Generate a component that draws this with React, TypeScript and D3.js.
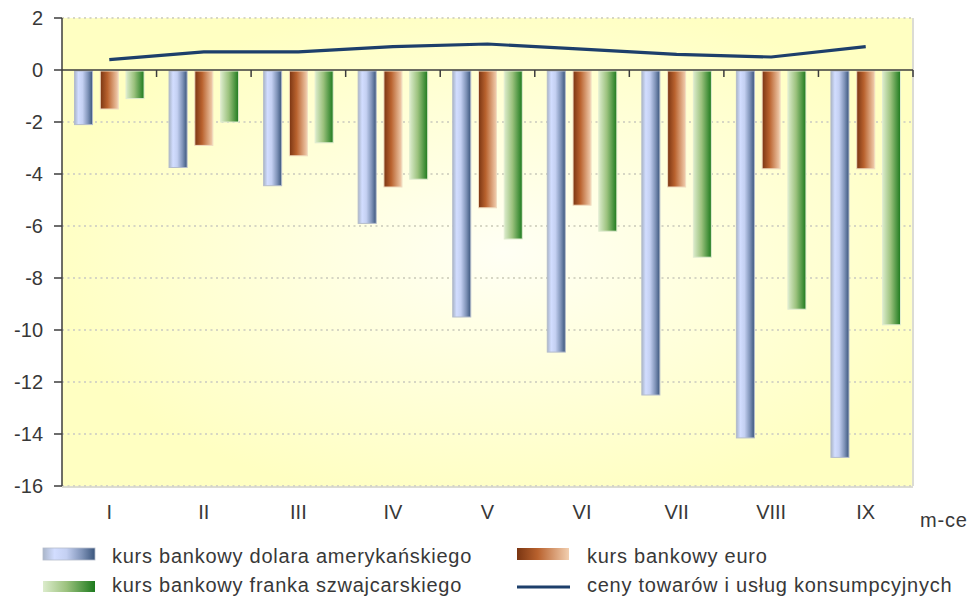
import React from "react";
import * as d3 from "d3";

const categories = ["I", "II", "III", "IV", "V", "VI", "VII", "VIII", "IX"];
const usdValues = [-2.1, -3.75, -4.45, -5.9, -9.5, -10.85, -12.5, -14.15, -14.9];
const eurValues = [-1.5, -2.9, -3.3, -4.5, -5.3, -5.2, -4.5, -3.8, -3.8];
const chfValues = [-1.1, -2.0, -2.8, -4.2, -6.5, -6.2, -7.2, -9.2, -9.8];
const cpiValues = [0.4, 0.7, 0.7, 0.9, 1.0, 0.8, 0.6, 0.5, 0.9];
const yTicks = [2, 0, -2, -4, -6, -8, -10, -12, -14, -16];
const seriesNames = [
  "kurs bankowy dolara amerykańskiego",
  "kurs bankowy euro",
  "kurs bankowy franka szwajcarskiego",
  "ceny towarów i usług konsumpcyjnych",
];
const xAxisTitle = "m-ce";

const W = 971;
const H = 597;
const left = 62;
const right = 913;
const top = 18;
const bottom = 486;
const font = "'Liberation Sans', Arial, sans-serif";

export default function App() {
  const y = d3.scaleLinear().domain([2, -16]).range([top, bottom]);
  const x = d3.scaleBand<string>().domain(categories).range([left, right]).paddingInner(0).paddingOuter(0);
  const inner = d3
    .scaleBand<number>()
    .domain([0, 1, 2])
    .range([12.5, x.bandwidth() - 12.5])
    .paddingInner(0.3);
  const bw = inner.bandwidth();
  const series = [
    { values: usdValues, fill: "url(#gUsd)", stroke: "#b4bccb" },
    { values: eurValues, fill: "url(#gEur)", stroke: "#f0dcc0" },
    { values: chfValues, fill: "url(#gChf)", stroke: "#e0ecd0" },
  ];
  const line = d3
    .line<number>()
    .x((_, i) => (x(categories[i]) as number) + x.bandwidth() / 2)
    .y((d) => y(d));
  const textColor = "#383838";

  return (
    <svg width={W} height={H} style={{ position: "absolute", left: 0, top: 0, display: "block" }}>
      <defs>
        <radialGradient id="bg" cx="0.52" cy="0.5" r="0.55" gradientUnits="objectBoundingBox">
          <stop offset="0" stopColor="#fffff4" />
          <stop offset="0.6" stopColor="#ffffd6" />
          <stop offset="1" stopColor="#ffffc2" />
        </radialGradient>
        <linearGradient id="gUsd" x1="0" x2="1" y1="0" y2="0">
          <stop offset="0" stopColor="#a9b5c9" />
          <stop offset="0.22" stopColor="#d2ddff" />
          <stop offset="0.45" stopColor="#c4d0f2" />
          <stop offset="0.75" stopColor="#7f93b8" />
          <stop offset="1" stopColor="#3a557c" />
        </linearGradient>
        <linearGradient id="gEur" x1="0" x2="1" y1="0" y2="0">
          <stop offset="0" stopColor="#7a3512" />
          <stop offset="0.4" stopColor="#b9622e" />
          <stop offset="1" stopColor="#f2cfb0" />
        </linearGradient>
        <linearGradient id="gChf" x1="0" x2="1" y1="0" y2="0">
          <stop offset="0" stopColor="#dceccc" />
          <stop offset="0.45" stopColor="#9cc27e" />
          <stop offset="1" stopColor="#1d7a1d" />
        </linearGradient>
      </defs>
      <rect x={0} y={0} width={W} height={H} fill="#fff" />
      <rect x={left} y={top} width={right - left} height={bottom - top} fill="url(#bg)" />
      {/* plot border right & bottom */}
      <line x1={right} x2={right} y1={top} y2={bottom} stroke="#dcdcd4" strokeWidth={2} />
      <line x1={left} x2={right} y1={bottom + 1} y2={bottom + 1} stroke="#dcdcd4" strokeWidth={2} />
      {/* grid */}
      {yTicks
        .filter((t) => t !== 0)
        .map((t) => (
          <line
            key={t}
            x1={left}
            x2={right}
            y1={y(t)}
            y2={y(t)}
            stroke="#d6d6c4"
            strokeWidth={2}
            strokeDasharray="2 3.5"
          />
        ))}
      {/* bars */}
      {categories.map((c, i) =>
        series.map((s, j) => {
          const v = s.values[i];
          const bx = (x(c) as number) + (inner(j) as number);
          const y0 = y(0);
          const y1 = y(v);
          return (
            <rect
              key={c + j}
              x={bx}
              y={Math.min(y0, y1) + 1}
              width={bw}
              height={Math.abs(y1 - y0) - 1}
              fill={s.fill}
              stroke={s.stroke}
              strokeWidth={1}
            />
          );
        })
      )}
      {/* zero axis */}
      <line x1={left} x2={right} y1={y(0)} y2={y(0)} stroke="#3c3c3c" strokeWidth={1.5} />
      {categories.map((c, i) =>
        i > 0 ? (
          <line key={c} x1={x(c)} x2={x(c)} y1={y(0)} y2={y(0) + 7} stroke="#3c3c3c" strokeWidth={1.5} />
        ) : null
      )}
      <line x1={right} x2={right} y1={y(0)} y2={y(0) + 7} stroke="#3c3c3c" strokeWidth={1.5} />
      {/* left axis */}
      <line x1={left} x2={left} y1={top} y2={bottom} stroke="#3c3c3c" strokeWidth={1.5} />
      {yTicks.map((t) => (
        <g key={t}>
          <line x1={left - 8} x2={left} y1={y(t)} y2={y(t)} stroke="#3c3c3c" strokeWidth={1.5} />
          <text
            x={43}
            y={y(t)}
            dy="0.36em"
            textAnchor="end"
            fontFamily={font}
            fontSize={20}
            fill={textColor}
          >
            {t}
          </text>
        </g>
      ))}
      {/* line series */}
      <path d={line(cpiValues) || ""} fill="none" stroke="#1d3f6b" strokeWidth={3.2} strokeLinejoin="round" />
      {/* x labels */}
      {categories.map((c) => (
        <text
          key={c}
          x={(x(c) as number) + x.bandwidth() / 2}
          y={519}
          textAnchor="middle"
          fontFamily={font}
          fontSize={20}
          fill={textColor}
        >
          {c}
        </text>
      ))}
      <text x={920} y={527} fontFamily={font} fontSize={20} fill={textColor} letterSpacing={0.8}>
        {xAxisTitle}
      </text>
      {/* legend */}
      <g fontFamily={font} fontSize={20} fill={textColor} letterSpacing={0.75}>
        <rect x={43} y={548} width={52} height={12} fill="url(#gUsd)" stroke="#b4bccb" strokeWidth={0.8} />
        <text x={112} y={563}>{seriesNames[0]}</text>
        <rect x={517} y={548} width={52} height={12} fill="url(#gEur)" />
        <text x={587} y={563}>{seriesNames[1]}</text>
        <rect x={43} y={581} width={52} height={11} fill="url(#gChf)" />
        <text x={112} y={592}>{seriesNames[2]}</text>
        <line x1={517} x2={570} y1={587} y2={587} stroke="#1d3f6b" strokeWidth={3.2} />
        <text x={587} y={592}>{seriesNames[3]}</text>
      </g>
    </svg>
  );
}
